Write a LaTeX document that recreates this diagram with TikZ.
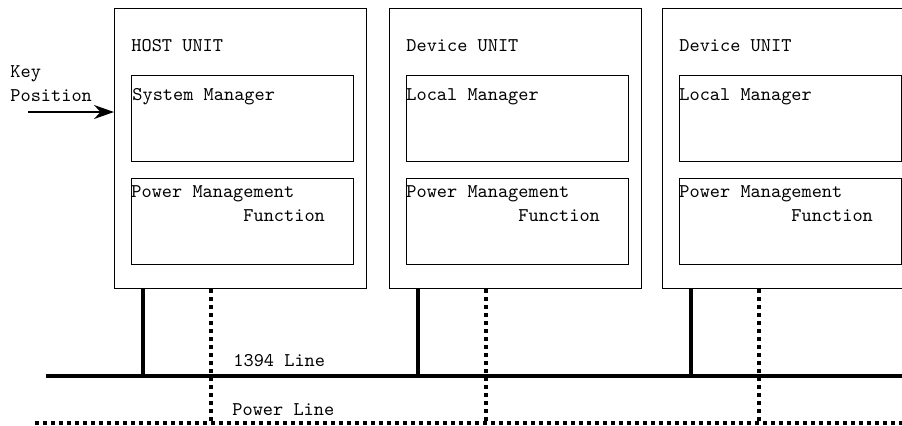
\documentclass[tikz,border=0pt]{standalone}
\usepackage{tikz}
\usetikzlibrary{arrows.meta, calc}

\begin{document}
\begin{tikzpicture}[x=0.5pt, y=-0.5pt, font=\ttfamily\fontsize{9.7}{11.8}\selectfont]
%
% Skiss:
%  [HOST UNIT]   [Device UNIT]   [Device UNIT] ...
%     |    :        |    :          |    :
%  ---+----:--------+----:----------+----:----  1394 Line
%  ........:.............:...............:....  Power Line
%
\tikzstyle{unit} = [rectangle, draw=black, line width=0.5pt, minimum width=126pt, minimum height=140pt, anchor=north west, inner sep=0pt]
\tikzstyle{block} = [rectangle, draw=black, line width=0.5pt, minimum width=111pt, minimum height=43pt, anchor=north west, inner sep=0pt]
\tikzstyle{txt} = [anchor=base west, inner sep=0pt, align=left]
\tikzstyle{bus} = [line width=2pt]
\tikzstyle{pwr} = [line width=2pt, dash pattern=on 2pt off 2pt]
\tikzstyle{arrow} = [line width=1pt, -{Stealth[length=10pt, width=7pt]}]
\useasboundingbox (0,0) rectangle (902,425);
\clip (0,0) rectangle (902,425);
% Units
\node (host) [unit] at (114,8) {};
\node (dev_a) [unit] at (389,8) {};
\node (dev_b) [unit] at (662,8) {};
% Blocks inside the units
\node (host_mgr) [block] at ($(host.north west)+(17,67)$) {};
\node (host_pm) [block] at ($(host.north west)+(17,170)$) {};
\node (dev_a_mgr) [block] at ($(dev_a.north west)+(17,67)$) {};
\node (dev_a_pm) [block] at ($(dev_a.north west)+(17,170)$) {};
\node (dev_b_mgr) [block] at ($(dev_b.north west)+(17,67)$) {};
\node (dev_b_pm) [block] at ($(dev_b.north west)+(17,170)$) {};
% Texts (base anchor of two-line nodes sits on the last line)
\node (host_title) [txt] at ($(host.north west)+(17,43)$) {HOST UNIT};
\node (dev_a_title) [txt] at ($(dev_a.north west)+(17,43)$) {Device UNIT};
\node (dev_b_title) [txt] at ($(dev_b.north west)+(17,43)$) {Device UNIT};
\node (host_mgr_txt) [txt] at ($(host_mgr.north west)+(1,25)$) {System Manager};
\node (dev_a_mgr_txt) [txt] at ($(dev_a_mgr.north west)+(0,25)$) {Local Manager};
\node (dev_b_mgr_txt) [txt] at ($(dev_b_mgr.north west)+(0,25)$) {Local Manager};
\foreach \u in {host_pm, dev_a_pm, dev_b_pm}
  \node (\u_txt) [txt] at ($(\u.north west)+(0,43)$) {Power Management\\\hspace*{5.775em}Function};
\node (key) [txt] at (10,101) {Key\\Position};
% Bus lines
\coordinate (bus_w) at (46,376);
\coordinate (bus_e) at (902,376);
\coordinate (pwr_w) at (35,423);
\coordinate (pwr_e) at (902,423);
\draw [bus] (bus_w) -- (bus_e);
\draw [pwr] (pwr_w) -- (pwr_e);
\node (bus_txt) [txt] at (233,366) {1394 Line};
\node (pwr_txt) [txt] at (232,415) {Power Line};
% Taps from every unit down to the lines
\foreach \u in {host, dev_a, dev_b} {
  \coordinate (\u_tap) at ($(\u.south west)+(29,0)$);
  \coordinate (\u_ptap) at ($(\u.south west)+(97,0)$);
  \draw [bus] (\u_tap) -- (\u_tap |- bus_w);
  \draw [pwr] (\u_ptap) -- (\u_ptap |- pwr_w);
}
% Key input
\coordinate (key_in) at (28,112);
\draw [arrow] (key_in) -- (key_in -| host.west);
\end{tikzpicture}
\end{document}
